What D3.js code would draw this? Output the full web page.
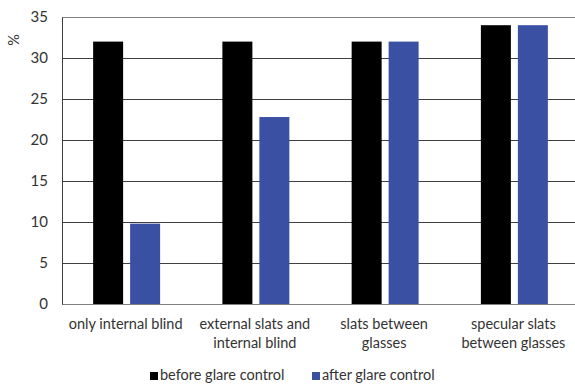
<!DOCTYPE html>
<html>
<head>
<meta charset="utf-8">
<script src="https://cdn.jsdelivr.net/npm/d3@7"></script>
<style>
html,body{margin:0;padding:0;background:#fff;}
svg{display:block;}
text{font-family:Lato,"Open Sans",sans-serif;fill:#333;}
</style>
</head>
<body>
<svg id="chart" width="575" height="385"></svg>
<script>
const categories = [["only internal blind"],["external slats and","internal blind"],["slats between","glasses"],["specular slats","between glasses"]];
const seriesNames = ["before glare control","after glare control"];
const before = [32, 32, 32, 34];
const after = [9.8, 22.8, 32, 34];
const yTicks = [0,5,10,15,20,25,30,35];
const colors = ["#000000","#3a50a2"];

const svg = d3.select("#chart");
const mLeft = 62, mTop = 17, mBottom = 304, mRight = 579;
const catKeys = categories.map((c,i)=>i);
const x = d3.scaleBand().domain(catKeys).range([mLeft,mRight]).padding(0);
const xs = d3.scaleBand().domain([0,1]).range([0,x.bandwidth()]).paddingInner(0.189).paddingOuter(0.842);
const y = d3.scaleLinear().domain([0,35]).range([mBottom,mTop]);

// gridlines
svg.append("g").selectAll("line").data(yTicks).join("line")
  .attr("x1",mLeft).attr("x2",575)
  .attr("y1",d=>Math.round(y(d))+0.5).attr("y2",d=>Math.round(y(d))+0.5)
  .attr("stroke",d=>d===0||d===35?"#7f7f7f":"#404040").attr("stroke-width",1);
// left axis line
svg.append("line").attr("x1",mLeft+0.5).attr("x2",mLeft+0.5).attr("y1",Math.round(y(35))+0.5).attr("y2",Math.round(y(0))+0.5)
  .attr("stroke","#404040");

// y tick labels
const yAxis = d3.axisLeft(y).tickValues(yTicks).tickSize(0).tickPadding(14);
const ga = svg.append("g").attr("transform",`translate(${mLeft},0)`).call(yAxis);
ga.select(".domain").remove();
ga.selectAll("text").style("font-size","15px").style("font-family","Lato,sans-serif").attr("fill","#333");

// % label
svg.append("text").attr("transform","translate(19,40) rotate(-90)").attr("text-anchor","middle")
  .style("font-size","14.5px").text("%");

// bars
const data = [before, after];
data.forEach((vals,si)=>{
  svg.append("g").selectAll("rect").data(vals).join("rect")
    .attr("x",(d,i)=>x(i)+xs(si))
    .attr("width",xs.bandwidth())
    .attr("y",d=>y(d))
    .attr("height",d=>y(0)-y(d))
    .attr("fill",colors[si]);
});

// category labels
categories.forEach((lines,i)=>{
  const t = svg.append("text").attr("text-anchor","middle").attr("x",x(i)+x.bandwidth()/2-1)
    .style("font-size","14.5px");
  lines.forEach((l,j)=>{
    t.append("tspan").attr("x",x(i)+x.bandwidth()/2-1).attr("y",329+j*19).text(l);
  });
});

// legend
const legX = [150, 312];
seriesNames.forEach((n,i)=>{
  svg.append("rect").attr("x",legX[i]).attr("y",372).attr("width",8).attr("height",8).attr("fill",colors[i]);
  svg.append("text").attr("x",legX[i]+10).attr("y",380).style("font-size","14.5px").text(n);
});
</script>
</body>
</html>
